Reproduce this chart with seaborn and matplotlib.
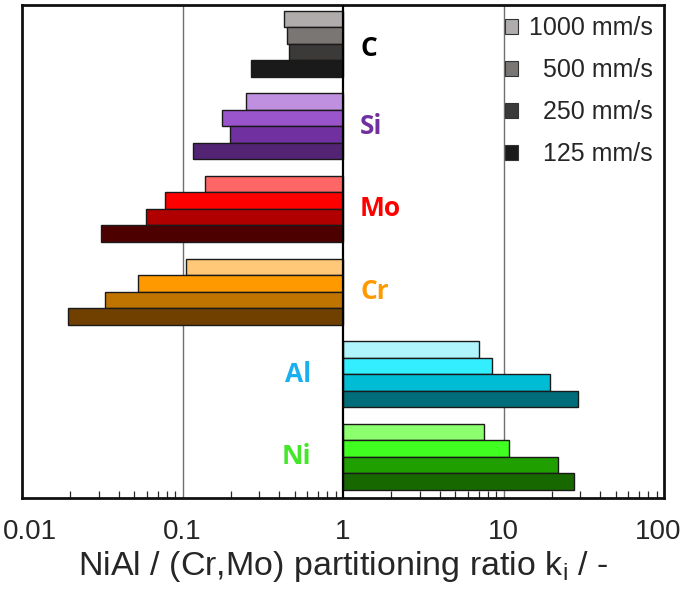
import numpy as np
import pandas as pd
import matplotlib
matplotlib.use("Agg")
import matplotlib.pyplot as plt
import matplotlib.transforms as mtransforms
import seaborn as sns
from matplotlib.patches import Patch

# ---- data ----
elements = ["C", "Si", "Mo", "Cr", "Al", "Ni"]
speeds = ["1000 mm/s", "500 mm/s", "250 mm/s", "125 mm/s"]
k_1000 = [0.43, 0.248, 0.138, 0.105, 7.07, 7.6]
k_500 = [0.45, 0.175, 0.078, 0.053, 8.44, 10.8]
k_250 = [0.46, 0.198, 0.059, 0.033, 19.4, 21.8]
k_125 = [0.266, 0.116, 0.031, 0.0193, 29.0, 27.4]
tick_values = [0.01, 0.1, 1, 10, 100]
tick_labels = ["0.01", "0.1", "1", "10", "100"]
legend_labels = ["1000 mm/s", "  500 mm/s", "  250 mm/s", "  125 mm/s"]

# ---- styles ----
bar_colors = {
    "C": ["#b0acab", "#7a7674", "#3c3a39", "#1a1a1a"],
    "Si": ["#c090e0", "#9b55cc", "#7030a0", "#542474"],
    "Mo": ["#ff6666", "#ff0000", "#b00000", "#4d0000"],
    "Cr": ["#ffc878", "#ff9900", "#c07400", "#704000"],
    "Al": ["#b0f4fc", "#33eeff", "#00bcd4", "#006e7a"],
    "Ni": ["#8cff6e", "#40ff20", "#20a000", "#186800"],
}
label_colors = {"C": "#000000", "Si": "#7030a0", "Mo": "#ff0000",
                "Cr": "#ff9900", "Al": "#1ab0f0", "Ni": "#44e62a"}

rows = []
for s, vals in zip(speeds, [k_1000, k_500, k_250, k_125]):
    for e, v in zip(elements, vals):
        rows.append({"element": e, "speed": s, "logk": np.log10(v)})
df = pd.DataFrame(rows)

sns.set_style("white")
plt.rcParams["font.family"] = ["Liberation Sans", "DejaVu Sans"]

fig = plt.figure(figsize=(6.85, 5.95), dpi=100)
ax = fig.add_axes([22 / 685, 1 - 498 / 595, (664 - 22) / 685, (498 - 5) / 595])

sns.barplot(data=df, x="logk", y="element", hue="speed", orient="h",
            order=elements, hue_order=speeds, legend=False, ax=ax,
            width=0.8, linewidth=1.0, edgecolor="#1a1a1a", zorder=2)

# recolor each bar by its element and speed
for p in ax.patches:
    yc = p.get_y() + p.get_height() / 2
    ei = int(round(yc))
    hi = int(round((yc - ei + 0.3) / 0.2))
    hi = min(max(hi, 0), 3)
    p.set_facecolor(bar_colors[elements[ei]][hi])

ax.set_xlim(-2, 2)
ax.set_ylim(5.5, -0.47)

# grid lines
ax.axvline(-1, color="#707070", lw=1.0, zorder=0)
ax.axvline(1, color="#707070", lw=1.0, zorder=0)
ax.axvline(0, color="black", lw=1.6, zorder=3)

# ticks
ax.set_xticks(np.log10(tick_values))
ax.set_xticklabels(tick_labels, fontsize=20)
minor = [np.log10(m * 10.0 ** d) for d in range(-2, 2) for m in range(2, 10)]
ax.set_xticks(minor, minor=True)
ax.tick_params(axis="x", which="both", direction="in", bottom=True, top=False,
               length=5, width=0.9, pad=15)
ax.tick_params(axis="x", which="major", length=0)
ax.set_yticks([])
ax.set_ylabel("")
ax.set_xlabel("NiAl / (Cr,Mo) partitioning ratio k$_\\mathregular{i}$ / -",
              fontsize=24.5, labelpad=3)

# keep the outer tick labels inside the picture
tl = ax.get_xticklabels()
tl[0].set_transform(tl[0].get_transform() +
                    mtransforms.ScaledTranslation(8 / 100, 0, fig.dpi_scale_trans))
tl[-1].set_transform(tl[-1].get_transform() +
                     mtransforms.ScaledTranslation(-6 / 100, 0, fig.dpi_scale_trans))

for sp in ax.spines.values():
    sp.set_visible(True)
    sp.set_color("#111111")
    sp.set_linewidth(2)

# group labels
for i, e in enumerate(elements):
    if e in ("Al", "Ni"):
        ax.text(-0.2, i, e, ha="right", va="center", fontsize=19,
                fontweight="bold", color=label_colors[e], family="Open Sans")
    else:
        ax.text(0.106, i + (0.06 if e == "C" else 0), e, ha="left", va="center",
                fontsize=19, fontweight="bold", color=label_colors[e],
                family="Open Sans")

handles = [Patch(facecolor=c, edgecolor="#333333", linewidth=0.8)
           for c in bar_colors["C"]]
ax.legend(handles, legend_labels, loc="upper right", frameon=False,
          fontsize=18, handlelength=0.5, handleheight=0.5, handletextpad=0.45,
          labelspacing=0.72, bbox_to_anchor=(1.0, 1.0), borderaxespad=0.05)

fig.savefig("out.png", dpi=100)
